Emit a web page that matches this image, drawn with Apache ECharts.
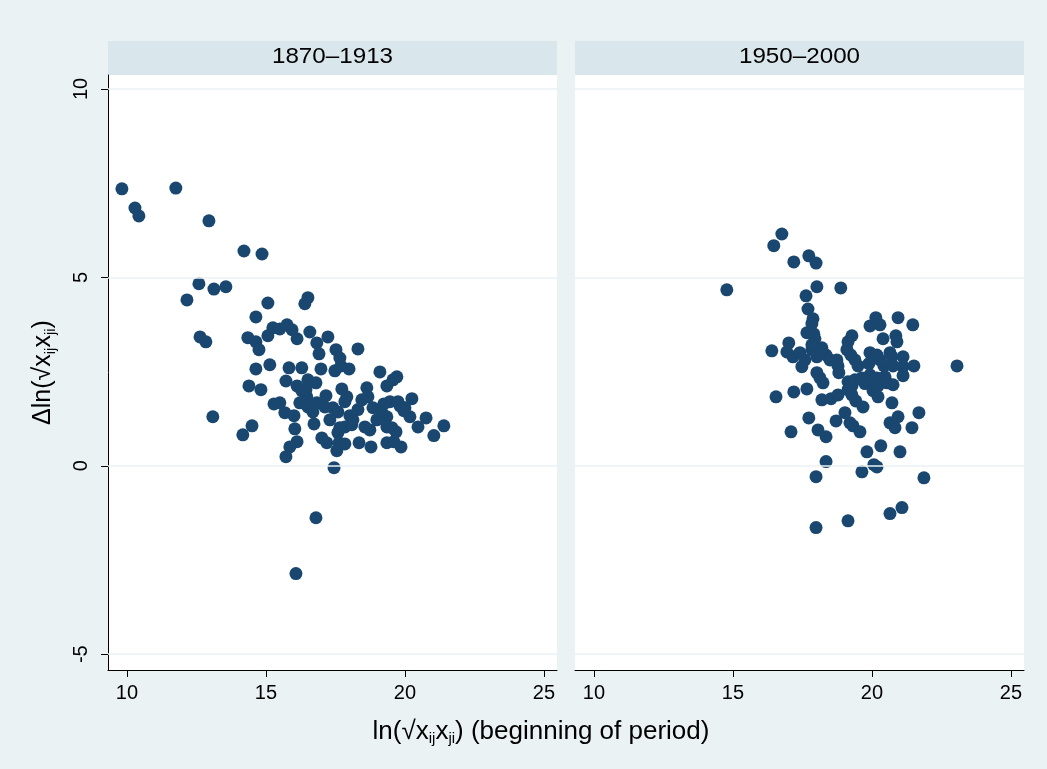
<!DOCTYPE html>
<html><head><meta charset="utf-8">
<script src="https://cdn.jsdelivr.net/npm/echarts@6/dist/echarts.min.js"></script>
<style>html,body{margin:0;padding:0;background:#eaf2f3}#c{width:1047px;height:769px}</style>
</head><body><div id="c"></div>
<script>
const panels = ['1870–1913', '1950–2000'];
const xTicks = [10, 15, 20, 25];
const yTicks = [-5, 0, 5, 10];

const data1870 = [
[9.82,7.35],[10.29,6.84],[10.43,6.63],[11.76,7.37],[12.95,6.50],[14.21,5.70],[14.86,5.62],
[12.16,4.40],[12.59,4.83],[13.13,4.69],[13.56,4.75],[15.07,4.32],[16.40,4.30],[16.51,4.46],
[14.64,3.95],[15.25,3.66],[15.50,3.63],[15.76,3.74],[15.94,3.61],[15.07,3.45],[14.35,3.40],
[14.64,3.29],[14.75,3.08],[12.63,3.42],[12.84,3.29],[16.12,3.37],[16.58,3.55],[17.23,3.42],
[16.83,3.26],[16.91,2.97],[17.52,3.08],[17.66,2.86],[17.70,2.65],[18.31,3.10],[14.64,2.57],
[15.14,2.68],[15.83,2.60],[16.29,2.60],[16.98,2.57],[17.48,2.52],[17.99,2.57],[19.10,2.49],
[19.71,2.36],[19.57,2.28],[19.35,2.12],[15.72,2.25],[16.51,2.28],[16.80,2.20],[16.12,2.12],
[14.39,2.12],[14.82,2.02],[17.73,2.04],[17.91,1.83],[18.63,2.07],[18.67,1.83],[20.25,1.78],
[19.46,1.70],[19.82,1.59],[20.00,1.54],[20.18,1.30],[16.29,1.99],[16.47,1.83],[16.51,1.56],
[16.83,1.67],[17.12,1.56],[17.41,1.54],[17.59,1.43],[18.02,1.33],[18.13,1.22],[18.31,1.49],
[18.85,1.54],[18.99,1.22],[19.17,1.41],[19.35,1.30],[19.35,1.03],[19.53,1.01],[15.29,1.64],
[15.50,1.67],[15.68,1.41],[16.01,1.33],[16.22,1.67],[16.69,1.43],[16.73,1.11],[13.09,1.30],
[14.50,1.06],[14.17,0.82],[16.04,0.98],[17.66,1.01],[17.84,1.03],[18.56,1.03],[18.74,0.95],
[20.76,1.27],[20.47,1.03],[21.40,1.06],[21.04,0.80],[17.01,0.74],[17.19,0.61],[17.59,0.88],
[17.63,0.61],[17.84,0.58],[17.55,0.40],[18.35,0.61],[18.78,0.50],[19.35,0.61],[19.60,0.64],
[19.86,0.50],[16.12,0.64],[15.86,0.50],[15.72,0.24],[17.45,-0.05],[16.08,-2.86],[16.80,-1.38],
[17.16,1.86],[17.84,1.70],[18.45,1.75],[19.24,1.64],[19.75,1.70],[18.09,1.09],[16.44,2.02],
[17.30,1.22],[19.68,0.90],[19.96,1.46]
];

const data1950 = [
[14.78,4.67],[16.76,6.15],[16.47,5.84],[17.19,5.41],[17.73,5.57],[17.99,5.38],[18.02,4.75],
[18.88,4.72],[17.63,4.51],[17.70,4.16],[17.88,3.90],[17.84,3.77],[17.66,3.53],[17.91,3.50],
[17.95,3.37],[19.93,3.71],[20.14,3.93],[20.29,3.74],[20.94,3.93],[21.47,3.74],[19.28,3.45],
[19.14,3.29],[20.40,3.37],[20.86,3.45],[20.90,3.29],[17.01,3.26],[16.40,3.05],[16.94,3.02],
[17.16,2.89],[17.41,3.00],[17.59,2.81],[17.48,2.63],[17.84,3.08],[18.02,2.89],[18.20,3.13],
[18.35,2.94],[18.49,2.81],[18.74,2.81],[18.78,2.65],[19.10,3.08],[19.24,2.94],[19.39,2.81],
[19.50,2.65],[19.93,3.00],[20.18,2.94],[20.29,2.81],[20.43,2.65],[20.65,3.00],[20.72,2.89],
[20.76,2.65],[21.12,2.89],[21.12,2.63],[21.51,2.65],[23.06,2.65],[18.81,2.47],[18.02,2.47],
[18.13,2.33],[18.24,2.20],[19.14,2.23],[19.28,2.12],[19.39,2.28],[19.64,2.33],[19.75,2.18],
[19.93,2.41],[20.00,2.23],[20.18,2.33],[20.22,2.12],[20.47,2.36],[20.54,2.20],[20.76,2.15],
[21.12,2.39],[16.55,1.83],[17.19,1.96],[17.66,2.04],[18.20,1.75],[18.53,1.78],[18.78,1.88],
[19.14,2.02],[19.28,1.88],[19.42,1.72],[19.68,1.56],[20.04,1.99],[20.22,1.83],[20.72,1.67],
[17.73,1.27],[18.71,1.19],[19.03,1.41],[19.21,1.14],[19.32,1.06],[19.57,0.90],[17.09,0.90],
[18.06,0.95],[18.35,0.77],[20.65,1.14],[20.83,1.01],[20.94,1.30],[21.44,1.01],[21.69,1.41],
[19.82,0.37],[20.32,0.53],[21.01,0.37],[18.35,0.11],[17.99,-0.29],[19.64,-0.16],[20.07,0.03],
[20.18,-0.03],[21.87,-0.32],[17.99,-1.64],[19.14,-1.46],[20.65,-1.27],[21.08,-1.11],
[19.89,2.71],[17.84,3.21]
];

const FONT = "'Liberation Sans', Arial, Helvetica, sans-serif";
const NAVY = '#1a476f';
const BG = '#eaf2f3';

const gridBox = [
  { left: 108, top: 75, width: 449, height: 595 },
  { left: 575, top: 75, width: 449, height: 595 }
];

const chart = echarts.init(document.getElementById('c'), null, { renderer: 'canvas' });

function xAxisFor(i) {
  return {
    gridIndex: i, type: 'value', min: 9.32, max: 25.47,
    axisLine: { show: true, onZero: false, lineStyle: { color: '#000', width: 1 } },
    axisTick: { show: true, length: 7, customValues: xTicks, lineStyle: { color: '#000' } },
    axisLabel: { customValues: xTicks, margin: 13, fontSize: 20, color: '#000', fontFamily: FONT },
    splitLine: { show: false }
  };
}
function yAxisFor(i) {
  const show = i === 0;
  return {
    gridIndex: i, type: 'value', min: -5.42, max: 10.37,
    show: show,
    axisLine: { show: show, onZero: false, lineStyle: { color: '#000', width: 1 } },
    axisTick: { show: show, length: 7, customValues: yTicks, lineStyle: { color: '#000' } },
    axisLabel: { show: show, customValues: yTicks, rotate: 90, margin: 17, fontSize: 20, color: '#000', fontFamily: FONT },
    splitLine: { show: false },
    name: show ? '{n|Δln(√x}{s|ij}{n|x}{s|ji}{n|)}' : '',
    nameLocation: 'middle', nameGap: 50, nameRotate: 90,
    nameTextStyle: {
      color: '#000',
      rich: {
        n: { fontSize: 25, fontFamily: FONT, color: '#000' },
        s: { fontSize: 15, fontFamily: FONT, color: '#000', padding: [14, 0, 0, 0] }
      }
    }
  };
}

const series = [];
[data1870, data1950].forEach(function (d, i) {
  series.push({
    type: 'line', xAxisIndex: i, yAxisIndex: i, data: [], z: 1, silent: true,
    markLine: {
      silent: true, symbol: ['none', 'none'], label: { show: false },
      lineStyle: { color: BG, width: 1.5, type: 'solid' },
      data: yTicks.map(function (v) { return { yAxis: v }; })
    }
  });
  series.push({
    type: 'scatter', xAxisIndex: i, yAxisIndex: i, data: d, z: 3,
    symbol: 'circle', symbolSize: 13,
    itemStyle: { color: NAVY, opacity: 1 },
    emphasis: { disabled: true }
  });
});

const graphics = [];
panels.forEach(function (p, i) {
  const g = gridBox[i];
  graphics.push({ type: 'rect', shape: { x: g.left, y: 41, width: g.width, height: 34 }, style: { fill: '#d9e6eb' }, silent: true });
  graphics.push({ type: 'text', x: g.left + g.width / 2, y: 57, scaleX: 1.1, style: { text: p, font: '22px ' + FONT, fill: '#000', align: 'center', verticalAlign: 'middle' }, silent: true });
});
graphics.push({
  type: 'text', x: 541, y: 732,
  style: {
    text: '{n|ln(√x}{s|ij}{n|x}{s|ji}{n|) (beginning of period)}',
    align: 'center', verticalAlign: 'middle',
    rich: {
      n: { fontSize: 26, fontFamily: FONT, fill: '#000' },
      s: { fontSize: 15, fontFamily: FONT, fill: '#000', padding: [14, 0, 0, 0] }
    }
  },
  silent: true
});

chart.setOption({
  backgroundColor: BG,
  animation: false,
  grid: gridBox.map(function (g) { return Object.assign({ show: true, backgroundColor: '#fff', borderWidth: 0, containLabel: false }, g); }),
  xAxis: [xAxisFor(0), xAxisFor(1)],
  yAxis: [yAxisFor(0), yAxisFor(1)],
  series: series,
  graphic: graphics
});
</script>
</body></html>
